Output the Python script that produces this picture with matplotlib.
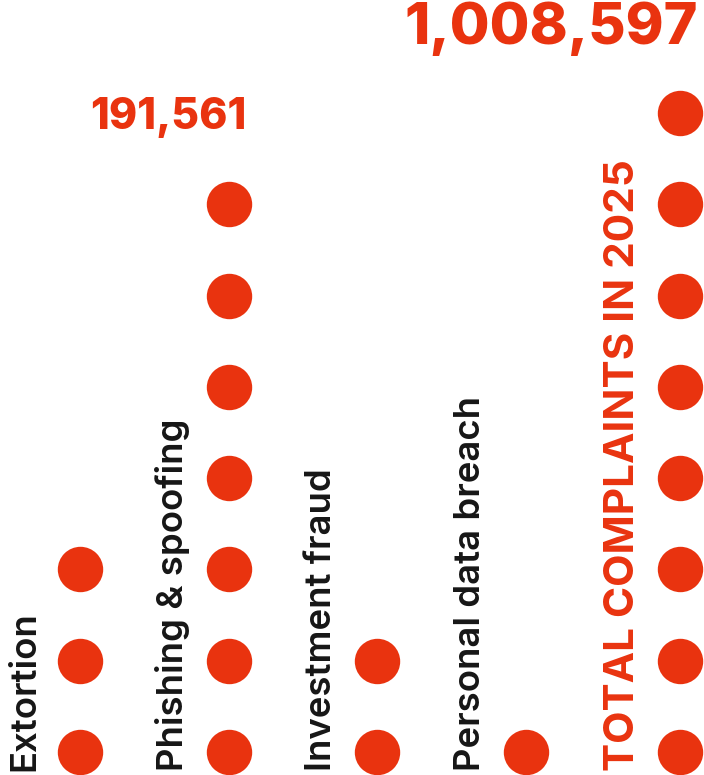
import matplotlib
matplotlib.use("Agg")
import matplotlib.pyplot as plt
from matplotlib import font_manager as fm
import numpy as np

# ---- data ----
categories = ["Extortion", "Phishing & spoofing", "Investment fraud",
              "Personal data breach", "TOTAL COMPLAINTS IN 2025"]
dot_counts = [3, 7, 2, 1, 8]
value_labels = [None, "191,561", None, None, "1,008,597"]
is_total = [False, False, False, False, True]

# ---- fonts ----
def inter(fname, weight):
    for f in fm.fontManager.ttflist:
        if f.fname.endswith(fname):
            return fm.FontProperties(fname=f.fname)
    return fm.FontProperties(family="Inter", weight=weight)

F_LABEL = inter("Inter-SemiBold.otf", 600)
F_TOTAL = inter("Inter-Bold.otf", 700)
F_NUM = inter("Inter-ExtraBold.otf", 800)

# ---- style / layout ----
RED = "#E9330F"
DARK = "#161616"
W, H = 704, 775
col_x = [80, 228.5, 377, 525.5, 680]
base_y = 752
step = 91.3
r_px = 22.7

fig = plt.figure(figsize=(W / 100, H / 100), dpi=100)
ax = fig.add_axes([0, 0, 1, 1])
ax.set_xlim(0, W)
ax.set_ylim(H, 0)
ax.axis("off")

s_pt = (2 * r_px * 72 / 100) ** 2
for i, cat in enumerate(categories):
    x = col_x[i]
    n = dot_counts[i]
    ys = base_y - step * np.arange(n)
    ax.scatter(np.full(n, x), ys, s=s_pt, color=RED, linewidths=0, zorder=3)
    fp = (F_TOTAL if is_total[i] else F_LABEL).copy()
    fp.set_size(30.4 if is_total[i] else 26.3)
    ax.text(x - 46, 771, cat, rotation=90, rotation_mode="anchor",
            ha="left", va="baseline", fontproperties=fp,
            color=RED if is_total[i] else DARK)
    if value_labels[i]:
        fs = 41.5 if is_total[i] else 30.8
        fpn = F_NUM.copy()
        fpn.set_size(fs)
        slot_y = base_y - step * n
        cap = fs * 100 / 72 * 0.727
        ax.text(x + 18, slot_y + cap / 2 + 1, value_labels[i], ha="right",
                va="baseline", fontproperties=fpn, color=RED)

fig.savefig("out.png", dpi=100)
